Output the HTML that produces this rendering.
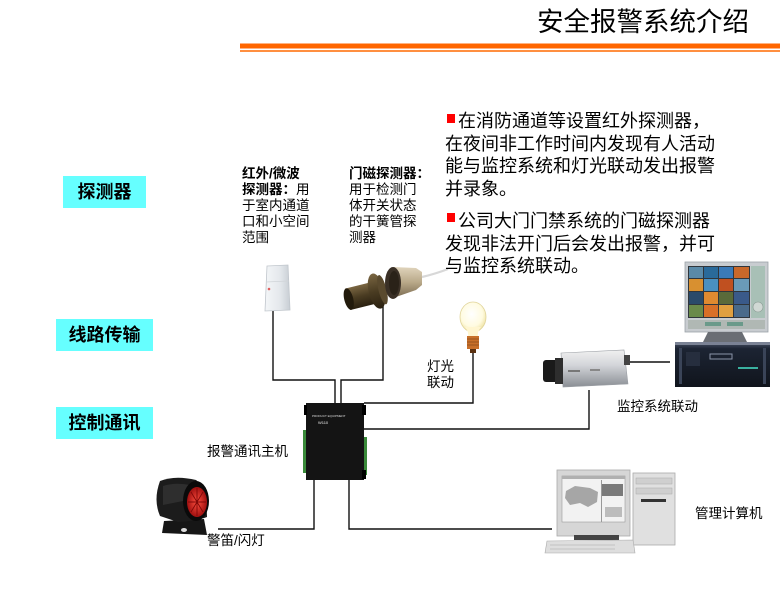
<!DOCTYPE html>
<html>
<head>
<meta charset="utf-8">
<style>
  html,body{margin:0;padding:0;background:#fff;}
  #c{position:relative;width:780px;height:591px;overflow:hidden;background:#fff;
     font-family:"Liberation Sans","Noto Sans CJK SC",sans-serif;color:#000;}
  .t{position:absolute;white-space:nowrap;}
  .s{font-size:13.5px;line-height:16px;}
  .box{position:absolute;background:#66ffff;font-size:18px;font-weight:bold;text-align:center;line-height:32px;height:32px;}
  .p{position:absolute;font-size:18px;line-height:22.7px;white-space:nowrap;}
  .bul{position:absolute;width:8px;height:9px;background:#ff0000;}
  svg{position:absolute;left:0;top:0;}
</style>
</head>
<body>
<div id="c">
<svg width="780" height="591" viewBox="0 0 780 591">
  <defs>
    <linearGradient id="pir" x1="0" y1="0" x2="1" y2="0">
      <stop offset="0" stop-color="#f4f6f8"/><stop offset="0.6" stop-color="#e4e8ec"/><stop offset="1" stop-color="#c8ced4"/>
    </linearGradient>
    <linearGradient id="brn" x1="0" y1="0" x2="0" y2="1">
      <stop offset="0" stop-color="#7a6642"/><stop offset="0.5" stop-color="#4a3c22"/><stop offset="1" stop-color="#2a2010"/>
    </linearGradient>
    <linearGradient id="tan" x1="0" y1="0" x2="0" y2="1">
      <stop offset="0" stop-color="#e0d4bc"/><stop offset="0.5" stop-color="#b8a888"/><stop offset="1" stop-color="#7a6a50"/>
    </linearGradient>
    <linearGradient id="cam" x1="0" y1="0" x2="0" y2="1">
      <stop offset="0" stop-color="#f0f0f0"/><stop offset="0.4" stop-color="#d4d6da"/><stop offset="1" stop-color="#8a8e94"/>
    </linearGradient>
    <radialGradient id="bulb" cx="0.45" cy="0.4" r="0.6">
      <stop offset="0" stop-color="#ffffff"/><stop offset="0.7" stop-color="#fffbe0"/><stop offset="1" stop-color="#f0e4a8"/>
    </radialGradient>
    <radialGradient id="red" cx="0.5" cy="0.5" r="0.5">
      <stop offset="0" stop-color="#ff5040"/><stop offset="1" stop-color="#a01010"/>
    </radialGradient>
    <linearGradient id="srv" x1="0" y1="0" x2="0" y2="1">
      <stop offset="0" stop-color="#4a5468"/><stop offset="0.15" stop-color="#1c2433"/><stop offset="1" stop-color="#10141c"/>
    </linearGradient>
  </defs>

  <!-- header lines -->
  <rect x="240" y="43.5" width="540" height="5" fill="#ff6600"/>
  <rect x="240" y="50" width="540" height="2" fill="#ff8f40"/>

  <!-- connection lines -->
  <g fill="none" stroke="#111" stroke-width="1.4">
    <path d="M273 311 V380 H335 V403"/>
    <path d="M383 303 V380 H341 V403"/>
    <path d="M473 353 V403 H364"/>
    <path d="M364 429 H589 V390"/>
    <path d="M630 362 H670"/>
    <path d="M314 480 V529 H218"/>
    <path d="M349 480 V529 H552"/>
  </g>

  <!-- PIR sensor -->
  <path d="M267 266 L288 265 L290 310 L265 311 Z" fill="url(#pir)" stroke="#c0c6cc" stroke-width="0.8"/>
  <path d="M266 282 L289 281" stroke="#d0d4d8" stroke-width="0.8"/>
  <circle cx="269" cy="289" r="1.3" fill="#e06060"/>

  <!-- door magnet part 1 -->
  <g transform="rotate(-14 365 294)">
    <rect x="347" y="284" width="26" height="22" fill="url(#brn)"/>
    <ellipse cx="348" cy="295" rx="4.5" ry="11" fill="#221a0c"/>
    <ellipse cx="377" cy="294" rx="8" ry="18" fill="url(#brn)"/>
    <ellipse cx="383" cy="294" rx="4" ry="15" fill="#5a4a2e"/>
  </g>
  <!-- door magnet part 2 -->
  <path d="M393 267 L416 268 L422 272 L422 285 L416 290 L393 298 Z" fill="url(#tan)"/>
  <ellipse cx="393" cy="283" rx="8" ry="16" fill="#3a3026"/>
  <ellipse cx="394" cy="283" rx="5" ry="12" fill="#2a2218"/>
  <path d="M422 277 Q435 274 448 269" stroke="#d8d8d8" stroke-width="2.2" fill="none"/>

  <!-- bulb -->
  <ellipse cx="473" cy="317" rx="13" ry="15" fill="url(#bulb)" stroke="#e0d49a" stroke-width="0.8"/>
  <path d="M465 327 Q469 332 468 337 L478 337 Q477 332 481 327 Z" fill="#fff6d0"/>
  <rect x="467" y="336" width="12" height="13" fill="#c8702a"/>
  <path d="M467 339 H479 M467 342 H479 M467 345 H479" stroke="#8a4a1a" stroke-width="0.8"/>
  <rect x="470" y="349" width="6" height="4" fill="#5a3010"/>

  <!-- controller -->
  <rect x="303" y="430" width="4" height="43" fill="#3a8a3a"/>
  <rect x="362" y="437" width="5" height="38" fill="#3a8a3a"/>
  <rect x="306" y="403" width="58" height="77" fill="#141414"/>
  <rect x="304" y="405" width="3" height="10" fill="#000"/>
  <rect x="362" y="405" width="4" height="10" fill="#000"/>
  <rect x="362" y="470" width="4" height="9" fill="#000"/>
  <text x="312" y="417" font-size="3" fill="#ddd" font-family="Liberation Sans, sans-serif">PRODUCT EQUIPMENT</text>
  <text x="318" y="424" font-size="4" fill="#eee" font-family="Liberation Sans, sans-serif">W110</text>

  <!-- camera -->
  <path d="M561 353 L624 350 L628 384 L563 387 Z" fill="url(#cam)" stroke="#9a9ea4" stroke-width="0.6"/>
  <rect x="624" y="355" width="6" height="10" fill="#444"/>
  <rect x="543" y="360" width="20" height="22" rx="3" fill="#1a1a1a"/>
  <rect x="555" y="358" width="8" height="26" fill="#2e2e2e"/>
  <rect x="568" y="370" width="12" height="2" fill="#777"/>
  <rect x="590" y="369" width="10" height="2" fill="#888"/>

  <!-- monitor -->
  <rect x="685" y="262" width="83" height="70" fill="#c8ccd0" stroke="#9ca2a8" stroke-width="0.8"/>
  <rect x="688" y="266" width="62" height="52" fill="#30363c"/>
  <g>
    <rect x="689" y="267" width="14" height="11" fill="#5a8aa8"/>
    <rect x="704" y="267" width="14" height="11" fill="#2a6a9a"/>
    <rect x="719" y="267" width="14" height="11" fill="#3a7ab8"/>
    <rect x="734" y="267" width="15" height="11" fill="#c8682a"/>
    <rect x="689" y="279" width="14" height="12" fill="#d89030"/>
    <rect x="704" y="279" width="14" height="12" fill="#4a90c0"/>
    <rect x="719" y="279" width="14" height="12" fill="#c05020"/>
    <rect x="734" y="279" width="15" height="12" fill="#6a9ab8"/>
    <rect x="689" y="292" width="14" height="12" fill="#2a4a6a"/>
    <rect x="704" y="292" width="14" height="12" fill="#e08a30"/>
    <rect x="719" y="292" width="14" height="12" fill="#5a6a3a"/>
    <rect x="734" y="292" width="15" height="12" fill="#3a5a8a"/>
    <rect x="689" y="305" width="14" height="12" fill="#6a8a4a"/>
    <rect x="704" y="305" width="14" height="12" fill="#d87028"/>
    <rect x="719" y="305" width="14" height="12" fill="#e0a040"/>
    <rect x="734" y="305" width="15" height="12" fill="#4a6a8a"/>
  </g>
  <rect x="751" y="266" width="14" height="52" fill="#a8c0b6"/>
  <circle cx="758" cy="307" r="5" fill="#d0d8d4" stroke="#8a9a94" stroke-width="0.6"/>
  <rect x="688" y="320" width="77" height="9" fill="#b0b8b4"/>
  <rect x="705" y="322" width="16" height="4" fill="#6a9a8a"/>
  <rect x="727" y="322" width="16" height="4" fill="#6a9a8a"/>
  <path d="M708 332 L742 332 L748 344 L702 344 Z" fill="#6a6e74"/>
  <!-- server -->
  <rect x="675" y="342" width="95" height="45" fill="url(#srv)"/>
  <rect x="675" y="342" width="95" height="3" fill="#7a8294"/>
  <rect x="679" y="348" width="3" height="36" fill="#3a4458"/>
  <rect x="763" y="348" width="3" height="36" fill="#3a4458"/>
  <rect x="710" y="354" width="22" height="5" fill="none" stroke="#8a94a8" stroke-width="1"/>
  <rect x="686" y="352" width="14" height="14" fill="#262e3e"/>
  <rect x="738" y="367" width="20" height="2" fill="#3ab0a0"/>

  <!-- siren -->
  <path d="M164 521 L162 533 L207 535 L204 519 Z" fill="#161616"/>
  <ellipse cx="184" cy="530" rx="3" ry="2" fill="#ddd"/>
  <path d="M160 481 Q175 475 196 480 L206 488 L207 517 Q196 521 178 522 L160 516 Q153 500 160 481 Z" fill="#1c1c1c"/>
  <path d="M163 486 Q175 482 190 485 L188 500 L163 505 Z" fill="#2e2e2e"/>
  <ellipse cx="196" cy="501" rx="13" ry="20" fill="#0a0a0a"/>
  <ellipse cx="197" cy="502" rx="10" ry="15" fill="url(#red)"/>
  <path d="M197 488 V516 M188 502 H206 M191 492 L203 512 M203 492 L191 512" stroke="#800808" stroke-width="0.9"/>

  <!-- management computer -->
  <rect x="557" y="470" width="73" height="66" fill="#d6d6d6" stroke="#aaa" stroke-width="0.8"/>
  <rect x="562" y="476" width="63" height="46" fill="#f2f2f2" stroke="#999" stroke-width="0.6"/>
  <rect x="562" y="476" width="63" height="3" fill="#b0b0b0"/>
  <path d="M566 491 L575 486 L590 488 L598 492 L597 502 L588 507 L580 503 L570 505 L565 498 Z" fill="#a6a6a6"/>
  <rect x="602" y="484" width="21" height="12" fill="#7a7a7a"/>
  <rect x="605" y="507" width="17" height="10" fill="#bcbcbc"/>
  <rect x="601" y="480" width="1" height="42" fill="#999"/>
  <rect x="574" y="535" width="45" height="5" fill="#444"/>
  <rect x="633" y="473" width="42" height="72" fill="#e0e0e0" stroke="#aaa" stroke-width="0.8"/>
  <rect x="636" y="478" width="36" height="6" fill="#cfcfcf" stroke="#aaa" stroke-width="0.5"/>
  <rect x="636" y="488" width="36" height="6" fill="#cfcfcf" stroke="#aaa" stroke-width="0.5"/>
  <rect x="641" y="499" width="25" height="3" fill="#333"/>
  <path d="M547 541 L633 540 L635 553 L545 553 Z" fill="#dedede" stroke="#aaa" stroke-width="0.6"/>
  <path d="M550 545 H615 M550 549 H615" stroke="#bbb" stroke-width="0.8"/>
</svg>

<!-- title -->
<div class="t" style="left:537px;top:7px;font-size:26.5px;line-height:30px;">安全报警系统介绍</div>

<!-- left boxes -->
<div class="box" style="left:63px;top:176px;width:83px;">探测器</div>
<div class="box" style="left:56px;top:319px;width:97px;">线路传输</div>
<div class="box" style="left:56px;top:407px;width:97px;">控制通讯</div>

<!-- sensor descriptions -->
<div class="t s" style="left:242px;top:166px;"><b>红外/微波</b><br><b>探测器：</b>用<br>于室内通道<br>口和小空间<br>范围</div>
<div class="t s" style="left:349px;top:166px;"><b>门磁探测器：</b><br>用于检测门<br>体开关状态<br>的干簧管探<br>测器</div>

<!-- right paragraphs -->
<div class="bul" style="left:447px;top:114px;"></div>
<div class="p" style="left:445px;top:110px;"><span style="padding-left:13px;">在消防通道等设置红外探测器，</span><br>在夜间非工作时间内发现有人活动<br>能与监控系统和灯光联动发出报警<br>并录象。</div>
<div class="bul" style="left:447px;top:213px;"></div>
<div class="p" style="left:445px;top:210px;"><span style="padding-left:13px;">公司大门门禁系统的门磁探测器</span><br>发现非法开门后会发出报警，并可<br>与监控系统联动。</div>

<!-- labels -->
<div class="t s" style="left:427px;top:359px;">灯光<br>联动</div>
<div class="t s" style="left:617px;top:399px;">监控系统联动</div>
<div class="t s" style="left:207px;top:444px;">报警通讯主机</div>
<div class="t s" style="left:207px;top:533px;">警笛/闪灯</div>
<div class="t s" style="left:695px;top:506px;">管理计算机</div>
</div>
</body>
</html>
